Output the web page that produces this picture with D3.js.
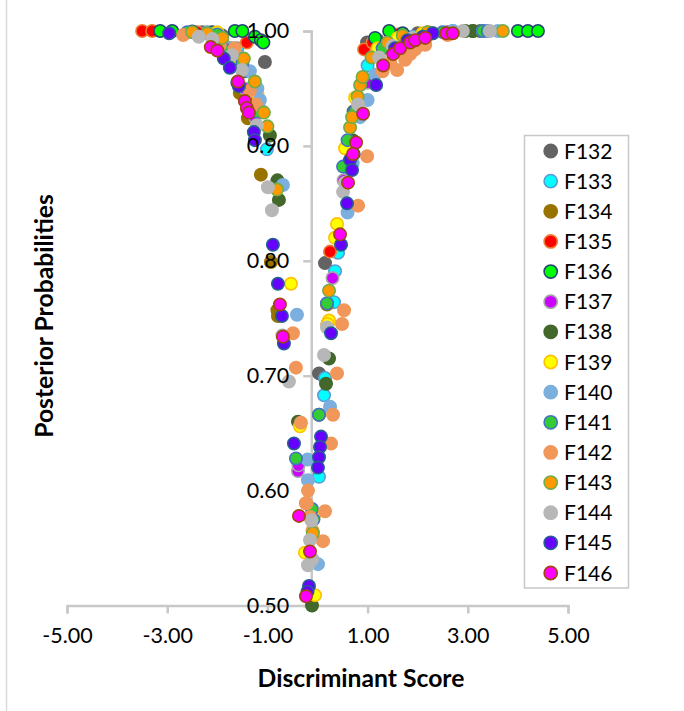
<!DOCTYPE html>
<html><head><meta charset="utf-8">
<script src="https://cdn.jsdelivr.net/npm/d3@7"></script>
<style>
html,body{margin:0;padding:0;background:#fff}
text{font-family:Lato,"Open Sans",sans-serif;fill:#000}
</style></head><body><svg id="c" width="684" height="711"></svg>
<script>
const xTicks=[-5,-3,-1,1,3,5];
const yTicks=[0.5,0.6,0.7,0.8,0.9,1.0];
const seriesNames=["F132","F133","F134","F135","F136","F137","F138","F139","F140","F141","F142","F143","F144","F145","F146"];
const fills=["#636363","#00FFFF","#997300","#FF0000","#00FF00","#CC00FF","#43682B","#FFFF00","#7CAFDD","#33CC33","#F1975A","#FF9900","#B7B7B7","#6600FF","#FF00FF"];
const strokes=["#636363","#5B9BD5","#997300","#ED7D31","#264478","#A5A5A5","#43682B","#FFC000","#7CAFDD","#4472C4","#F1975A","#70AD47","#B7B7B7","#255E91","#9E480E"];

const F132x=[-2.3,-1.9,-1.05,-1.45,0.99,1.2,1.6,2.0,2.6,3.1,0.72,0.15,0.03];
const F132y=[0.999,0.996,0.973,0.965,0.990,0.992,0.996,0.998,0.999,1,0.93,0.798,0.702];
const F133x=[-2.2,-1.6,-1.01,1.0,1.3,1.9,2.7,0.62,0.35,0.41,0.33,0.15,0.13,0.03];
const F133y=[0.999,0.985,0.897,0.97,0.985,0.995,1,0.88,0.791,0.807,0.764,0.698,0.683,0.612];
const F134x=[-2.1,-1.75,-1.55,-1.39,-1.13,-0.93,-0.8,-0.79,0.19,0.6,0.95,1.5,2.3];
const F134y=[0.997,0.985,0.946,0.924,0.875,0.799,0.757,0.752,0.762,0.9,0.957,0.988,0.998];
const F135x=[-3.5,-3.3,-2.4,-1.41,0.93,1.1,1.6,2.2,0.25,-0.23];
const F135y=[1,1,0.999,0.99,0.984,0.99,0.997,0.999,0.808,0.589];
const F136x=[-3.14,-2.9,-2.5,-2.1,-1.65,-1.5,-1.25,-1.13,-1.08,1.15,1.43,1.7,4.0,4.2,4.4];
const F136y=[1,1,0.9995,0.999,1,1,0.995,0.992,0.990,0.994,1,0.998,1,1,1];
const F137x=[-1.9,-1.45,-1.25,-0.7,0.52,0.62,1.0,0.3,-0.39,-0.38];
const F137y=[0.99,0.95,0.925,0.735,0.87,0.9,0.955,0.785,0.617,0.622];
const F138x=[-1.2,-0.95,-0.8,-0.77,-0.39,-0.11,0.23,0.17,0.62,0.7,0.03,0.2,2.95,3.1,3.25];
const F138y=[0.94,0.909,0.87,0.853,0.66,0.5,0.715,0.693,0.885,0.905,0.666,0.745,1,1,1];
const F139x=[-2.0,-1.6,-1.2,-1.1,0.39,0.35,0.23,0.55,0.75,1.2,1.6,2.1,-0.53,-0.35,-0.25,-0.05,0.2,-0.05];
const F139y=[0.999,0.975,0.945,0.93,0.832,0.82,0.748,0.898,0.942,0.985,0.994,0.998,0.78,0.656,0.546,0.509,0.745,0.58];
const F140x=[-2.2,-1.95,-1.7,-1.5,-1.35,-1.2,-1.15,-1.1,-0.69,-0.41,1.15,1.0,0.85,0.7,0.6,0.25,-0.2,-0.19,0.01,-0.1,1.5,2.7,3.3,3.6];
const F140y=[0.998,0.995,0.985,0.975,0.965,0.95,0.94,0.93,0.866,0.753,0.962,0.94,0.925,0.885,0.842,0.673,0.627,0.609,0.536,0.54,0.985,1,1,1];
const F141x=[-2.6,-2.0,-1.75,-1.5,-1.2,0.6,0.51,0.19,0.03,-0.43,-0.11,-0.08,0.75,1.3,2.5,3.3,3.4];
const F141y=[0.999,0.997,0.983,0.972,0.93,0.905,0.882,0.763,0.666,0.628,0.584,0.575,0.93,0.985,0.999,1,1];
const F142x=[-2.68,-1.95,-1.65,-1.35,-1.23,-0.43,-0.49,0.53,0.49,0.39,0.31,-0.33,0.27,-0.19,0.15,-0.15,0.11,0.99,0.81,1.59,1.75,1.95,2.15,2.6,-0.22,-0.1,1.45,1.85,1.3];
const F142y=[0.9965,0.988,0.985,0.948,0.936,0.707,0.737,0.757,0.745,0.702,0.666,0.659,0.641,0.6,0.582,0.577,0.556,0.891,0.848,0.966,0.975,0.984,0.988,0.9965,0.589,0.565,0.972,0.98,0.965];
const F143x=[-2.5,-2.2,-1.9,-1.47,-1.25,-1.07,-1.0,-0.81,0.65,0.69,0.8,0.85,0.9,1.08,1.4,1.7,2.2,3.7,0.23,-0.09];
const F143y=[0.999,0.998,0.994,0.976,0.956,0.929,0.917,0.862,0.916,0.925,0.943,0.953,0.96,0.977,0.99,0.996,0.999,1,0.774,0.563];
const F144x=[-2.37,-2.1,-1.71,-1.51,-1.21,-0.99,-0.91,-0.57,0.13,0.19,-0.15,-0.19,-0.12,0.51,0.55,0.81,1.23,1.5,1.9,2.9,3.44,-0.11];
const F144y=[0.995,0.993,0.979,0.966,0.918,0.864,0.844,0.695,0.718,0.742,0.557,0.535,0.574,0.86,0.868,0.936,0.977,0.987,0.994,1,1,0.54];
const F145x=[-2.96,-1.87,-1.75,-1.6,-1.57,-1.27,-1.25,-0.89,-0.79,-0.71,-0.67,0.27,0.47,-0.47,0.07,0.05,0.03,0.01,-0.17,-0.2,0.59,0.65,0.69,1.17,0.72,1.8,2.1,2.3,1.55];
const F145y=[0.998,0.976,0.968,0.955,0.952,0.912,0.905,0.814,0.78,0.752,0.728,0.737,0.814,0.641,0.647,0.638,0.629,0.62,0.517,0.512,0.85,0.888,0.879,0.953,0.893,0.992,0.995,0.998,0.985];
const F146x=[-2.13,-2.0,-1.59,-1.45,-1.41,-1.37,-0.75,-0.69,0.45,-0.37,-0.15,-0.23,0.91,0.77,0.71,0.61,1.31,1.51,1.65,1.85,1.95,2.15,2.57,2.7];
const F146y=[0.986,0.983,0.956,0.939,0.933,0.929,0.762,0.734,0.823,0.578,0.547,0.508,0.928,0.903,0.893,0.868,0.97,0.98,0.985,0.99,0.992,0.994,0.998,0.998];

const xVals=[F132x,F133x,F134x,F135x,F136x,F137x,F138x,F139x,F140x,F141x,F142x,F143x,F144x,F145x,F146x];
const yVals=[F132y,F133y,F134y,F135y,F136y,F137y,F138y,F139y,F140y,F141y,F142y,F143y,F144y,F145y,F146y];

const yAxisAt=-0.125;
const x=d3.scaleLinear().domain([-5,5]).range([67,568]);
const y=d3.scaleLinear().domain([0.5,1]).range([605.5,31]);
const svg=d3.select("#c");
const axisColor="#c8c8c8";
const fmt=v=>d3.format(".2f")(v).replace("\u2212","-");

svg.append("line").attr("x1",6.5).attr("x2",6.5).attr("y1",0).attr("y2",711).attr("stroke","#d9d9d9").attr("stroke-width",1.5);

function styleLines(g){g.selectAll(".domain,.tick line").attr("stroke",axisColor).attr("stroke-width",2.5);g.selectAll("text").remove();}
svg.append("g").attr("transform",`translate(0,${y(0.5)})`).call(d3.axisBottom(x).tickValues(xTicks).tickSize(8).tickSizeOuter(8)).call(styleLines);
svg.append("g").attr("transform",`translate(${x(yAxisAt)},0)`).call(d3.axisLeft(y).tickValues(yTicks).tickSize(8).tickSizeOuter(8)).call(styleLines);

seriesNames.forEach((n,i)=>{
  const pts=d3.zip(xVals[i],yVals[i]);
  svg.append("g").attr("data-series",n).selectAll("circle").data(pts).join("circle")
    .attr("cx",d=>x(d[0])).attr("cy",d=>y(d[1])).attr("r",6.2)
    .attr("fill",fills[i]).attr("stroke",strokes[i]).attr("stroke-width",1.6);
});

function labelsOnly(g){g.select(".domain").remove();g.selectAll(".tick line").remove();
  g.selectAll("text").style("font-size","21.5px").style("font-family","Lato,sans-serif").style("fill","#000");}
svg.append("g").attr("transform",`translate(0,${y(0.5)})`)
  .call(d3.axisBottom(x).tickValues(xTicks).tickFormat(fmt).tickSize(0).tickPadding(22)).call(labelsOnly);
svg.append("g").attr("transform",`translate(${x(yAxisAt)},0)`)
  .call(d3.axisLeft(y).tickValues(yTicks).tickFormat(fmt).tickSize(0).tickPadding(22)).call(labelsOnly);

svg.append("text").attr("x",361).attr("y",687).attr("text-anchor","middle")
  .style("font-weight",700).style("font-size","24.7px").text("Discriminant Score");
svg.append("text").attr("transform","translate(53,316) rotate(-90)").attr("text-anchor","middle")
  .style("font-weight",700).style("font-size","24.7px").text("Posterior Probabilities");

const lg=svg.append("g");
lg.append("rect").attr("x",524.5).attr("y",135.5).attr("width",104).attr("height",452.5)
  .attr("fill","#fff").attr("stroke","#c8c8c8").attr("stroke-width",1.5);
const legendRow=d3.scalePoint().domain(seriesNames).range([151,573]);
seriesNames.forEach((n,i)=>{
  lg.append("circle").attr("cx",550.7).attr("cy",legendRow(n)).attr("r",6.6)
    .attr("fill",fills[i]).attr("stroke",strokes[i]).attr("stroke-width",1.6);
  lg.append("text").attr("x",564).attr("y",legendRow(n)).attr("dy","0.36em")
    .style("font-size","21px").text(n);
});
</script></body></html>
